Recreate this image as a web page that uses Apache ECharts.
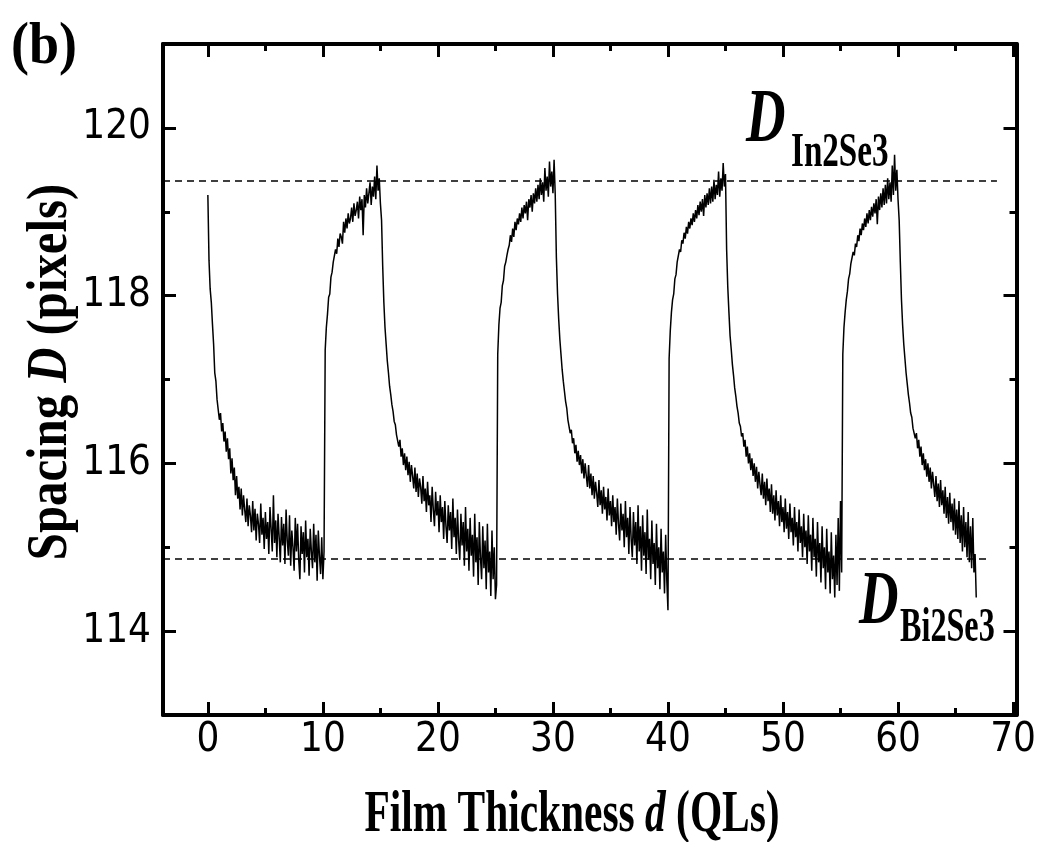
<!DOCTYPE html>
<html>
<head>
    <meta charset="utf-8">
    <script src="https://cdn.jsdelivr.net/npm/echarts/dist/echarts.min.js"></script>
</head>
<body>
<style>
    html, body, #main {
        width: 100%;
        height: 100%;
        margin: 0;
        padding: 0;
        background: #fff;
    }
</style>
<div id="main"></div>
<script>
    // sampling step (QL) and first thickness of each growth segment
    var step = 0.1;
    var segStart = [0, 10.2, 15.1, 25.2, 30.3, 40.1, 45.1, 55.2, 60.1];

    // Bi2Se3 growth: spacing relaxes down
    var decay0 = [119.20, 118.42, 118.08, 117.92, 117.66, 117.42, 117.08, 116.98, 116.76, 116.74,
        116.52, 116.60, 116.38, 116.48, 116.26, 116.38, 116.14, 116.30, 116.05, 116.18,
        115.88, 116.06, 115.80, 115.95, 115.62, 115.85, 115.58, 115.72, 115.45, 115.70,
        115.38, 115.62, 115.45, 115.30, 115.58, 115.25, 115.50, 115.38, 115.18, 115.55,
        115.20, 115.46, 115.08, 115.40, 115.28, 115.05, 115.52, 115.15, 115.35, 114.98,
        115.42, 115.10, 115.30, 114.92, 115.48, 115.22, 114.95, 115.62, 115.05, 115.32,
        114.88, 115.40, 115.12, 114.82, 115.36, 115.02, 115.28, 114.80, 115.45, 115.08,
        114.90, 115.38, 114.78, 115.20, 115.00, 114.72, 115.35, 114.95, 115.28, 114.85,
        114.62, 115.25, 114.92, 115.18, 114.70, 115.32, 114.88, 115.10, 114.66, 115.22,
        114.95, 114.75, 115.28, 114.82, 115.15, 114.60, 115.20, 114.90, 114.68, 115.12,
        114.62, 114.95];
    // In2Se3 growth: spacing climbs up
    var rise1 = [117.35, 117.62, 117.78, 117.98, 118.02, 118.22, 118.28, 118.40, 118.38, 118.55,
        118.50, 118.68, 118.58, 118.74, 118.70, 118.62, 118.88, 118.75, 118.92, 118.80,
        118.98, 118.86, 118.92, 119.05, 118.88, 119.10, 118.95, 119.02, 119.12, 118.92,
        119.18, 119.02, 119.15, 118.72, 119.20, 119.05, 119.28, 119.10, 119.22, 119.35,
        119.08, 119.30, 119.18, 119.42, 119.15, 119.55, 119.25, 119.40, 119.10];
    var decay1 = [118.90, 118.35, 117.92, 117.62, 117.42, 117.22, 117.08, 116.92, 116.82, 116.70,
        116.62, 116.50, 116.46, 116.34, 116.36, 116.20, 116.28, 116.08, 116.18, 115.98,
        116.12, 115.92, 116.08, 115.86, 116.02, 115.78, 115.98, 115.85, 115.70, 115.95,
        115.66, 115.88, 115.60, 115.82, 115.72, 115.52, 115.85, 115.55, 115.70, 115.42,
        115.78, 115.50, 115.62, 115.30, 115.72, 115.45, 115.25, 115.66, 115.38, 115.55,
        115.18, 115.62, 115.30, 115.48, 115.10, 115.55, 115.25, 115.05, 115.50, 115.20,
        115.42, 114.98, 115.58, 115.12, 115.35, 114.92, 115.45, 115.08, 114.85, 115.40,
        115.02, 115.30, 114.78, 115.48, 114.95, 115.22, 114.72, 115.35, 114.90, 115.15,
        114.65, 115.40, 114.82, 115.12, 114.55, 115.30, 114.88, 114.62, 115.25, 114.75,
        115.08, 114.50, 115.28, 114.70, 114.95, 114.42, 115.20, 114.62, 115.00, 114.38,
        114.55];
    var rise2 = [117.30, 117.65, 117.85, 117.92, 118.12, 118.18, 118.35, 118.40, 118.48, 118.55,
        118.60, 118.72, 118.64, 118.80, 118.70, 118.88, 118.78, 118.92, 118.85, 118.98,
        118.88, 119.05, 118.92, 119.08, 118.98, 119.12, 118.90, 119.15, 119.05, 119.20,
        119.00, 119.22, 119.10, 119.28, 119.12, 119.32, 119.15, 119.40, 119.20, 119.35,
        119.12, 119.52, 119.25, 119.42, 119.18, 119.60, 119.30, 119.48, 119.22, 119.62,
        119.20];
    var decay2 = [118.45, 118.02, 117.72, 117.48, 117.30, 117.12, 116.98, 116.86, 116.74, 116.66,
        116.52, 116.50, 116.36, 116.40, 116.24, 116.30, 116.12, 116.22, 116.02, 116.15,
        115.98, 116.10, 115.88, 116.05, 115.82, 116.00, 115.85, 115.72, 115.98, 115.70,
        115.88, 115.62, 115.85, 115.58, 115.78, 115.65, 115.48, 115.80, 115.50, 115.68,
        115.40, 115.72, 115.45, 115.60, 115.32, 115.70, 115.38, 115.55, 115.25, 115.62,
        115.30, 115.48, 115.15, 115.58, 115.28, 115.08, 115.52, 115.20, 115.40, 115.00,
        115.55, 115.12, 115.35, 114.92, 115.48, 115.10, 114.88, 115.42, 115.02, 115.30,
        114.80, 115.50, 114.95, 115.25, 114.72, 115.38, 114.90, 115.18, 114.68, 115.45,
        114.85, 115.10, 114.62, 115.32, 114.80, 115.05, 114.55, 115.28, 114.75, 115.00,
        114.50, 115.22, 114.70, 114.95, 114.45, 115.15, 114.60, 114.25];
    var rise3 = [117.25, 117.58, 117.80, 117.95, 118.02, 118.20, 118.25, 118.40, 118.42, 118.55,
        118.52, 118.66, 118.62, 118.75, 118.68, 118.82, 118.74, 118.88, 118.80, 118.92,
        118.84, 118.98, 118.88, 119.02, 118.92, 119.08, 118.96, 119.12, 119.00, 119.15,
        118.95, 119.20, 119.05, 119.22, 119.08, 119.28, 119.10, 119.30, 119.12, 119.38,
        119.15, 119.32, 119.20, 119.48, 119.18, 119.40, 119.25, 119.58, 119.30, 119.45];
    var decay3 = [118.55, 118.10, 117.80, 117.52, 117.36, 117.18, 117.05, 116.90, 116.80, 116.68,
        116.60, 116.48, 116.44, 116.32, 116.36, 116.20, 116.28, 116.08, 116.20, 116.00,
        116.12, 115.92, 116.06, 115.85, 116.00, 115.78, 115.96, 115.70, 115.90, 115.75,
        115.62, 115.88, 115.58, 115.78, 115.50, 115.82, 115.55, 115.70, 115.42, 115.75,
        115.40, 115.62, 115.32, 115.68, 115.38, 115.55, 115.25, 115.62, 115.30, 115.48,
        115.18, 115.58, 115.22, 115.42, 115.10, 115.52, 115.18, 115.35, 115.02, 115.48,
        115.12, 115.30, 114.95, 115.45, 115.05, 115.25, 114.88, 115.40, 115.00, 115.20,
        114.80, 115.38, 114.95, 115.15, 114.72, 115.35, 114.88, 115.10, 114.65, 115.30,
        114.82, 115.05, 114.58, 115.25, 114.75, 115.00, 114.50, 115.22, 114.70, 114.95,
        114.45, 115.18, 114.62, 114.90, 114.40, 115.15, 114.55, 115.35, 114.48, 115.55,
        114.70];
    var rise4 = [117.30, 117.62, 117.80, 117.95, 118.05, 118.20, 118.26, 118.38, 118.40, 118.52,
        118.48, 118.62, 118.58, 118.72, 118.65, 118.80, 118.72, 118.86, 118.78, 118.92,
        118.82, 118.98, 118.86, 119.02, 118.90, 119.06, 118.94, 119.10, 118.98, 119.15,
        118.85, 119.18, 119.02, 119.22, 119.05, 119.28, 119.08, 119.32, 119.10, 119.40,
        119.15, 119.35, 119.12, 119.55, 119.20, 119.68, 119.25, 119.50, 119.15];
    var decay4 = [118.90, 118.40, 117.95, 117.65, 117.42, 117.25, 117.08, 116.95, 116.82, 116.72,
        116.60, 116.55, 116.42, 116.44, 116.30, 116.36, 116.18, 116.28, 116.08, 116.20,
        115.98, 116.12, 115.92, 116.05, 115.84, 116.00, 115.78, 115.95, 115.70, 115.90,
        115.75, 115.60, 115.85, 115.55, 115.76, 115.48, 115.80, 115.50, 115.68, 115.40,
        115.72, 115.35, 115.60, 115.28, 115.65, 115.30, 115.52, 115.20, 115.58, 115.15,
        115.45, 115.10, 115.55, 115.05, 115.38, 114.95, 115.48, 115.00, 115.30, 114.88,
        115.42, 114.82, 115.25, 114.75, 115.35, 114.70, 114.92, 114.40];

    var segments = [decay0, rise1, decay1, rise2, decay2, rise3, decay3, rise4, decay4];

    // reference spacings of the two bulk films
    var dIn2Se3 = 119.37;
    var dBi2Se3 = 114.86;
    var dIn2Se3End = 68.6;
    var dBi2Se3End = 68.0;

    var xMin = -3.9, xMax = 70.3, yMin = 113, yMax = 121;
    var xMajor = [0, 10, 20, 30, 40, 50, 60, 70];
    var xMinor = [5, 15, 25, 35, 45, 55, 65];
    var yMajor = [114, 116, 118, 120];
    var yMinor = [115, 117, 119];

    var points = [];
    segments.forEach(function (vals, k) {
        vals.forEach(function (v, i) {
            points.push([+(segStart[k] + i * step).toFixed(2), v]);
        });
    });

    var numFont = "'Liberation Sans Narrow', 'Arial Narrow', 'DejaVu Sans Condensed', sans-serif";
    var serif = "'Liberation Serif', 'Times New Roman', serif";

    function frameAxis(dim, pos, ticks, len, withLine, withLabel) {
        var ax = {
            type: 'value',
            position: pos,
            min: dim === 'x' ? xMin : yMin,
            max: dim === 'x' ? xMax : yMax,
            axisLine: {show: withLine, onZero: false, lineStyle: {color: '#000', width: 4}},
            axisTick: {
                show: true,
                inside: true,
                length: len,
                customValues: ticks,
                lineStyle: {color: '#000', width: 3}
            },
            axisLabel: {show: false},
            splitLine: {show: false}
        };
        if (withLabel) {
            ax.axisLabel = {
                show: true,
                customValues: ticks,
                fontFamily: numFont,
                fontSize: 40,
                color: '#000',
                margin: dim === 'x' ? 6 : 12
            };
        }
        return ax;
    }

    var chart = echarts.init(document.getElementById('main'));

    var option = {
        animation: false,
        backgroundColor: '#fff',
        grid: {left: 163, right: 29.5, top: 44, bottom: 127},
        xAxis: [
            frameAxis('x', 'bottom', xMajor, 13, true, true),
            frameAxis('x', 'bottom', xMinor, 7, false, false),
            frameAxis('x', 'top', xMajor, 13, true, false),
            frameAxis('x', 'top', xMinor, 7, false, false)
        ],
        yAxis: [
            frameAxis('y', 'left', yMajor, 13, true, true),
            frameAxis('y', 'left', yMinor, 7, false, false),
            frameAxis('y', 'right', yMajor, 13, true, false),
            frameAxis('y', 'right', yMinor, 7, false, false)
        ],
        series: [{
            type: 'line',
            xAxisIndex: 0,
            yAxisIndex: 0,
            data: points,
            showSymbol: false,
            symbol: 'none',
            lineStyle: {color: '#000', width: 1.5},
            markLine: {
                silent: true,
                symbol: 'none',
                label: {show: false},
                lineStyle: {color: '#000', width: 1.5, type: [7, 5]},
                data: [
                    [{coord: [xMin, dIn2Se3]}, {coord: [dIn2Se3End, dIn2Se3]}],
                    [{coord: [xMin, dBi2Se3]}, {coord: [dBi2Se3End, dBi2Se3]}]
                ]
            }
        }],
        graphic: [
            {
                type: 'text', x: 11, y: 47, scaleX: 0.9,
                style: {text: '(b)', fontFamily: serif, fontWeight: 'bold', fontSize: 60, fill: '#000',
                    align: 'left', verticalAlign: 'middle'}
            },
            {
                type: 'text', x: 572, y: 815, scaleX: 0.69,
                style: {
                    text: '{n|Film Thickness }{i|d}{n| (QLs)}',
                    fontFamily: serif, fontWeight: 'bold', fontSize: 60, fill: '#000',
                    align: 'center', verticalAlign: 'middle',
                    rich: {
                        n: {fontFamily: serif, fontWeight: 'bold', fontSize: 60, fill: '#000'},
                        i: {fontFamily: serif, fontWeight: 'bold', fontStyle: 'italic', fontSize: 60, fill: '#000'}
                    }
                }
            },
            {
                type: 'text', x: 52, y: 372, rotation: Math.PI / 2, scaleX: 0.87,
                style: {
                    text: '{n|Spacing }{i|D}{n| (pixels)}',
                    fontFamily: serif, fontWeight: 'bold', fontSize: 56, fill: '#000',
                    align: 'center', verticalAlign: 'middle',
                    rich: {
                        n: {fontFamily: serif, fontWeight: 'bold', fontSize: 56, fill: '#000'},
                        i: {fontFamily: serif, fontWeight: 'bold', fontStyle: 'italic', fontSize: 56, fill: '#000'}
                    }
                }
            },
            {
                type: 'text', x: 746, y: 121, scaleX: 0.72,
                style: {text: 'D', fontFamily: serif, fontWeight: 'bold', fontStyle: 'italic', fontSize: 76,
                    fill: '#000', align: 'left', verticalAlign: 'middle'}
            },
            {
                type: 'text', x: 791, y: 154, scaleX: 0.69,
                style: {text: 'In2Se3', fontFamily: serif, fontWeight: 'bold', fontSize: 48,
                    fill: '#000', align: 'left', verticalAlign: 'middle'}
            },
            {
                type: 'text', x: 859, y: 603, scaleX: 0.72,
                style: {text: 'D', fontFamily: serif, fontWeight: 'bold', fontStyle: 'italic', fontSize: 76,
                    fill: '#000', align: 'left', verticalAlign: 'middle'}
            },
            {
                type: 'text', x: 900, y: 629, scaleX: 0.67,
                style: {text: 'Bi2Se3', fontFamily: serif, fontWeight: 'bold', fontSize: 48,
                    fill: '#000', align: 'left', verticalAlign: 'middle'}
            }
        ]
    };

    chart.setOption(option);
</script>
</body>
</html>
